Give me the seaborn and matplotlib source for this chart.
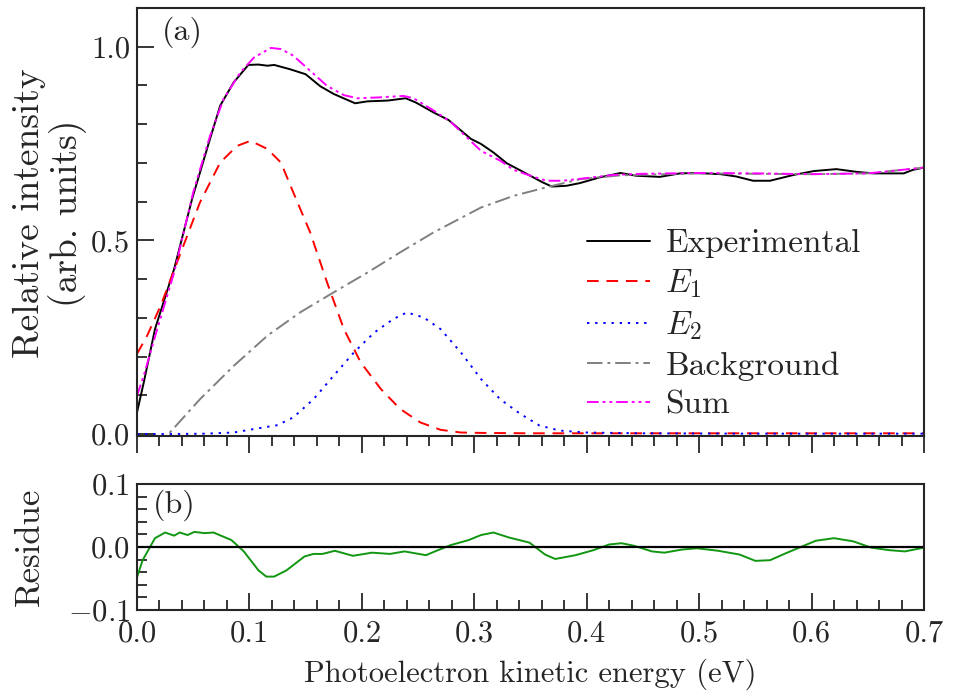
import numpy as np
import matplotlib
matplotlib.use("Agg")
import matplotlib.pyplot as plt
import seaborn as sns
from matplotlib.ticker import MultipleLocator

# ---- data ----
exp_x = [0.0, 0.006, 0.016, 0.033, 0.049, 0.064, 0.074, 0.086, 0.099, 0.108, 0.116, 0.122,
         0.136, 0.150, 0.163, 0.175, 0.194, 0.205, 0.223, 0.239, 0.248, 0.264, 0.277, 0.297,
         0.306, 0.317, 0.329, 0.344, 0.360, 0.369, 0.382, 0.394, 0.412, 0.430, 0.444, 0.465,
         0.483, 0.498, 0.519, 0.533, 0.548, 0.563, 0.584, 0.602, 0.622, 0.640, 0.655, 0.682,
         0.690, 0.700]
exp_y = [0.056, 0.133, 0.271, 0.426, 0.607, 0.753, 0.848, 0.908, 0.953, 0.954, 0.951, 0.953,
         0.942, 0.929, 0.898, 0.878, 0.854, 0.859, 0.861, 0.867, 0.856, 0.830, 0.811, 0.762,
         0.749, 0.727, 0.699, 0.676, 0.651, 0.639, 0.641, 0.648, 0.663, 0.674, 0.667, 0.664,
         0.673, 0.674, 0.671, 0.665, 0.654, 0.654, 0.669, 0.679, 0.684, 0.677, 0.673, 0.673,
         0.682, 0.688]

e1_x = [0.0, 0.009, 0.021, 0.039, 0.056, 0.074, 0.089, 0.101, 0.116, 0.128, 0.139, 0.154,
        0.169, 0.184, 0.199, 0.217, 0.234, 0.252, 0.270, 0.288, 0.306, 0.35, 0.40, 0.50,
        0.60, 0.70]
e1_y = [0.207, 0.254, 0.331, 0.469, 0.598, 0.701, 0.744, 0.757, 0.736, 0.701, 0.624, 0.521,
        0.392, 0.271, 0.185, 0.116, 0.065, 0.030, 0.011, 0.004, 0.003, 0.002, 0.002, 0.002,
        0.002, 0.002]

e2_x = [0.0, 0.027, 0.060, 0.086, 0.104, 0.125, 0.139, 0.157, 0.175, 0.193, 0.211, 0.228,
        0.240, 0.255, 0.270, 0.288, 0.306, 0.323, 0.341, 0.358, 0.376, 0.400, 0.447, 0.55,
        0.70]
e2_y = [0.0, 0.0, 0.001, 0.004, 0.013, 0.023, 0.043, 0.090, 0.151, 0.211, 0.262, 0.297,
        0.314, 0.301, 0.271, 0.211, 0.142, 0.090, 0.052, 0.022, 0.009, 0.004, 0.002, 0.001,
        0.001]

bg_x = [0.0, 0.014, 0.028, 0.056, 0.086, 0.116, 0.145, 0.175, 0.205, 0.234, 0.264, 0.306,
        0.335, 0.364, 0.394, 0.43, 0.50, 0.55, 0.60, 0.65, 0.70]
bg_y = [-0.09, -0.045, 0.0, 0.090, 0.176, 0.254, 0.314, 0.366, 0.417, 0.469, 0.521, 0.585,
        0.615, 0.637, 0.658, 0.668, 0.673, 0.672, 0.671, 0.673, 0.688]

sum_x = [0.0, 0.006, 0.018, 0.033, 0.050, 0.065, 0.077, 0.092, 0.104, 0.119, 0.128, 0.139,
         0.154, 0.169, 0.184, 0.196, 0.214, 0.237, 0.246, 0.264, 0.279, 0.306, 0.323, 0.335,
         0.350, 0.364, 0.379, 0.400, 0.424, 0.45, 0.50, 0.55, 0.60, 0.65, 0.70]
sum_y = [0.099, 0.151, 0.271, 0.417, 0.624, 0.770, 0.865, 0.934, 0.972, 0.997, 0.994, 0.977,
         0.938, 0.899, 0.875, 0.867, 0.869, 0.873, 0.867, 0.835, 0.806, 0.731, 0.706, 0.682,
         0.667, 0.654, 0.654, 0.661, 0.669, 0.672, 0.674, 0.673, 0.671, 0.673, 0.688]

res_x = [0.0, 0.005, 0.016, 0.025, 0.033, 0.038, 0.045, 0.051, 0.060, 0.068, 0.084, 0.095,
         0.108, 0.115, 0.122, 0.133, 0.149, 0.157, 0.165, 0.176, 0.192, 0.209, 0.225, 0.238,
         0.257, 0.265, 0.279, 0.295, 0.306, 0.317, 0.331, 0.349, 0.363, 0.372, 0.390, 0.406,
         0.420, 0.431, 0.442, 0.458, 0.469, 0.485, 0.498, 0.517, 0.536, 0.550, 0.563, 0.577,
         0.593, 0.604, 0.620, 0.637, 0.653, 0.669, 0.683, 0.700]
res_y = [-0.048, -0.021, 0.014, 0.023, 0.018, 0.023, 0.019, 0.024, 0.022, 0.023, 0.011, -0.007,
         -0.037, -0.047, -0.047, -0.037, -0.015, -0.011, -0.011, -0.006, -0.014, -0.009, -0.011,
         -0.007, -0.013, -0.007, 0.003, 0.011, 0.019, 0.023, 0.015, 0.007, -0.012, -0.019,
         -0.013, -0.005, 0.004, 0.006, 0.002, -0.007, -0.009, -0.004, -0.002, -0.006, -0.012,
         -0.022, -0.021, -0.010, 0.002, 0.010, 0.014, 0.009, -0.001, -0.005, -0.007, -0.001]

sns.set_theme(style="ticks")
plt.rcParams.update({
    "font.family": "serif",
    "font.serif": ["cmr10"],
    "mathtext.fontset": "cm",
    "axes.formatter.use_mathtext": True,
    "axes.linewidth": 1.5,
    "axes.unicode_minus": True,
})

fig = plt.figure(figsize=(9.55, 6.96), dpi=100)
ax1 = fig.add_axes([137 / 955, 1 - 436 / 696, 787 / 955, 428 / 696])
ax2 = fig.add_axes([137 / 955, 1 - 610 / 696, 787 / 955, 126 / 696])

lw = 1.4
sns.lineplot(x=exp_x, y=exp_y, ax=ax1, color="black", lw=lw, label="Experimental")
sns.lineplot(x=e1_x, y=e1_y, ax=ax1, color="red", lw=lw, linestyle=(0, (6, 4)), label="$E_1$")
sns.lineplot(x=e2_x, y=e2_y, ax=ax1, color="blue", lw=lw, linestyle=(0, (1.2, 3)), label="$E_2$")
sns.lineplot(x=bg_x, y=bg_y, ax=ax1, color="gray", lw=lw, linestyle=(0, (8, 2.5, 1.5, 2.5)),
             label="Background")
sns.lineplot(x=sum_x, y=sum_y, ax=ax1, color="magenta", lw=lw,
             linestyle=(0, (6, 2, 1.5, 2, 1.5, 2)), label="Sum")

ax1.set_xlim(0, 0.7)
ax1.set_ylim(-0.005, 1.1)
ax1.yaxis.set_major_locator(MultipleLocator(0.5))
ax1.yaxis.set_minor_locator(MultipleLocator(0.1))
ax1.xaxis.set_major_locator(MultipleLocator(0.1))
ax1.xaxis.set_minor_locator(MultipleLocator(0.02))
ax1.yaxis.set_major_formatter(plt.FormatStrFormatter("%.1f"))
ax1.tick_params(axis="x", which="both", direction="out", labelbottom=False, width=1.3)
ax1.tick_params(axis="x", which="major", length=12)
ax1.tick_params(axis="x", which="minor", length=7)
ax1.tick_params(axis="y", which="both", direction="in", width=1.3, labelsize=22, pad=5)
ax1.tick_params(axis="y", which="major", length=12)
ax1.tick_params(axis="y", which="minor", length=7)
ax1.set_xlabel("")
ax1.set_ylabel("Relative intensity\n(arb. units)", fontsize=27, linespacing=1.05)
ax1.yaxis.set_label_coords(-0.064, 0.52)
ax1.text(0.032, 0.944, "(a)", transform=ax1.transAxes, fontsize=23, va="center")
ax1.legend(loc="upper left", bbox_to_anchor=(0.555, 0.515), frameon=False, fontsize=24,
           handlelength=1.9, handletextpad=0.45, labelspacing=0.28, borderaxespad=0)

sns.lineplot(x=res_x, y=res_y, ax=ax2, color="#119611", lw=lw)
ax2.axhline(0, color="black", lw=1.6)
ax2.set_xlim(0, 0.7)
ax2.set_ylim(-0.1, 0.1)
ax2.xaxis.set_major_locator(MultipleLocator(0.1))
ax2.xaxis.set_minor_locator(MultipleLocator(0.02))
ax2.yaxis.set_major_locator(MultipleLocator(0.1))
ax2.yaxis.set_minor_locator(MultipleLocator(0.02))
ax2.xaxis.set_major_formatter(plt.FormatStrFormatter("%.1f"))
ax2.yaxis.set_major_formatter(plt.FuncFormatter(lambda v, p: f"${v:.1f}$"))
ax2.tick_params(which="both", direction="in", width=1.3, labelsize=22)
ax2.tick_params(which="major", length=12)
ax2.tick_params(which="minor", length=7)
ax2.tick_params(axis="x", pad=7)
ax2.tick_params(axis="y", pad=5)
ax2.set_xlabel("Photoelectron kinetic energy (eV)", fontsize=22, labelpad=8)
ax2.set_ylabel("Residue", fontsize=25)
ax2.yaxis.set_label_coords(-0.116, 0.5)
ax2.text(0.02, 0.83, "(b)", transform=ax2.transAxes, fontsize=23, va="center")

fig.savefig("out.png", dpi=100)
